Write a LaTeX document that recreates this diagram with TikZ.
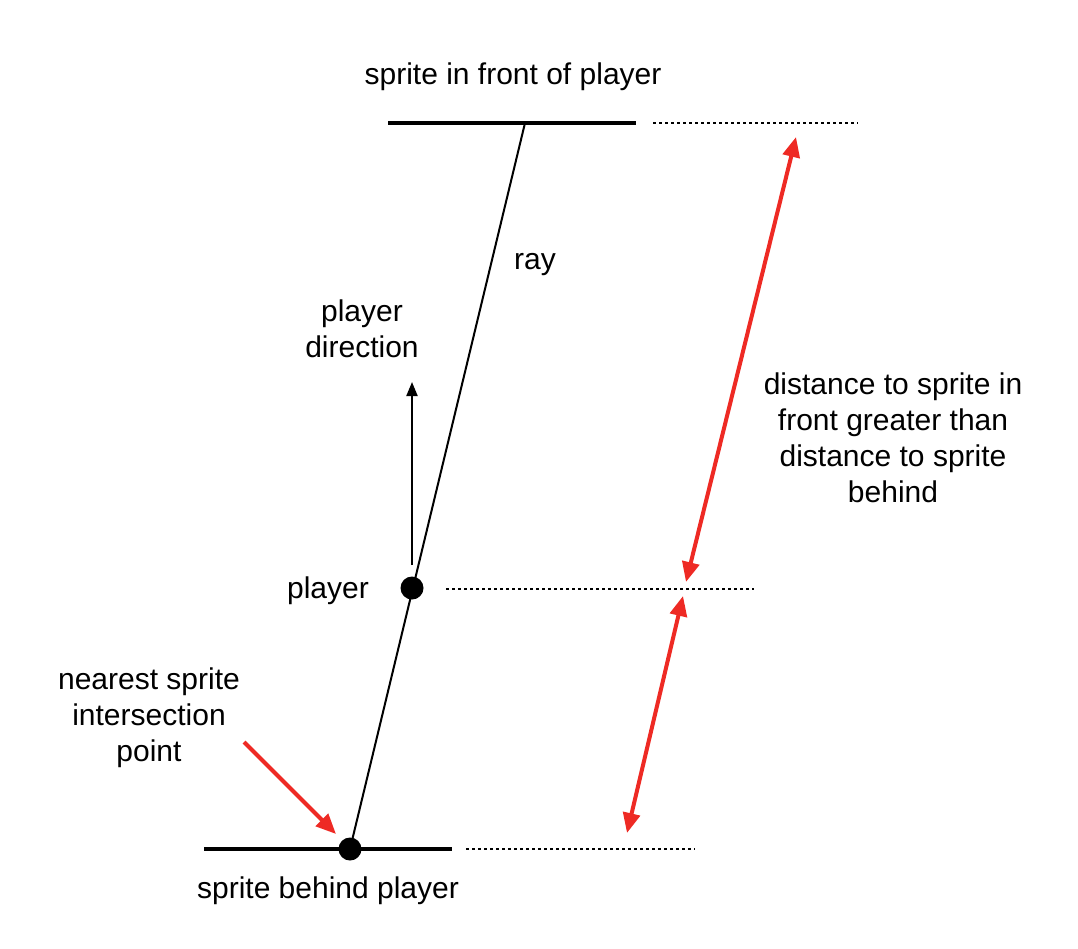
\documentclass[tikz,border=0pt]{standalone}
\usepackage{fontspec}
\setmainfont{Liberation Sans}
\usetikzlibrary{arrows.meta}
\definecolor{rred}{HTML}{EE2A24}
\begin{document}
\begin{tikzpicture}[x=1pt,y=-1pt,
  lbl/.style={font=\fontsize{30}{36}\selectfont, align=center, inner sep=0pt},
  wall/.style={line width=4pt},
  dots/.style={line width=2.5pt, dash pattern=on 2.5pt off 3.5pt},
  redarr/.style={draw=rred, line width=4pt, -{Triangle[length=20pt,width=17pt]}},
  redboth/.style={draw=rred, line width=4pt, {Triangle[length=20pt,width=17pt]}-{Triangle[length=20pt,width=17pt]}},
  dot/.style={circle, fill=black, inner sep=0pt, minimum size=23pt}]
\useasboundingbox (0,0) rectangle (1078,948);
% walls
\coordinate (tl) at (388,123); \coordinate (tr) at (636,123);
\coordinate (bl) at (204,849); \coordinate (br) at (452,849);
\draw[wall] (tl) -- (tr);
\draw[wall] (bl) -- (br);
% dotted guides
\coordinate (td1) at (653,123); \coordinate (td2) at (858,123);
\coordinate (pd1) at (446,589); \coordinate (pd2) at (754,589);
\coordinate (bd1) at (466,849); \coordinate (bd2) at (695,849);
\draw[dots] (td1) -- (td2);
\draw[dots] (pd1) -- (pd2);
\draw[dots] (bd1) -- (bd2);
% ray
\coordinate (rtop) at (525,123);
\coordinate (rbot) at (350,849);
\draw[line width=2pt] (rtop) -- (rbot);
% dots
\node[dot] (player) at (412,588) {};
\node[dot] (hit) at (350,849) {};
% direction arrow
\coordinate (dirbase) at (412,565);
\coordinate (dirtip) at (412,382);
\draw[line width=2pt, -{Triangle[length=14pt,width=11pt]}] (dirbase) -- (dirtip);
% red arrows
\coordinate (a1) at (796,137); \coordinate (a2) at (686,582);
\coordinate (b1) at (683,596); \coordinate (b2) at (627,833);
\coordinate (n1) at (244,742); \coordinate (n2) at (336,834);
\draw[redboth] (a1) -- (a2);
\draw[redboth] (b1) -- (b2);
\draw[redarr] (n1) -- (n2);
% labels
\node[lbl] (tfront) at (513,77) {sprite in front of player};
\node[lbl] (tray) at (535,265) {ray};
\node[lbl] (tdir) at (362,329) {player\\direction};
\node[lbl] (tdist) at (893,438) {distance to sprite in\\front greater than\\distance to sprite\\behind};
\node[lbl] (tplayer) at (328,591) {player};
\node[lbl] (tnear) at (149,718) {nearest sprite\\intersection\\point};
\node[lbl] (tbehind) at (328,891) {sprite behind player};
\end{tikzpicture}
\end{document}
